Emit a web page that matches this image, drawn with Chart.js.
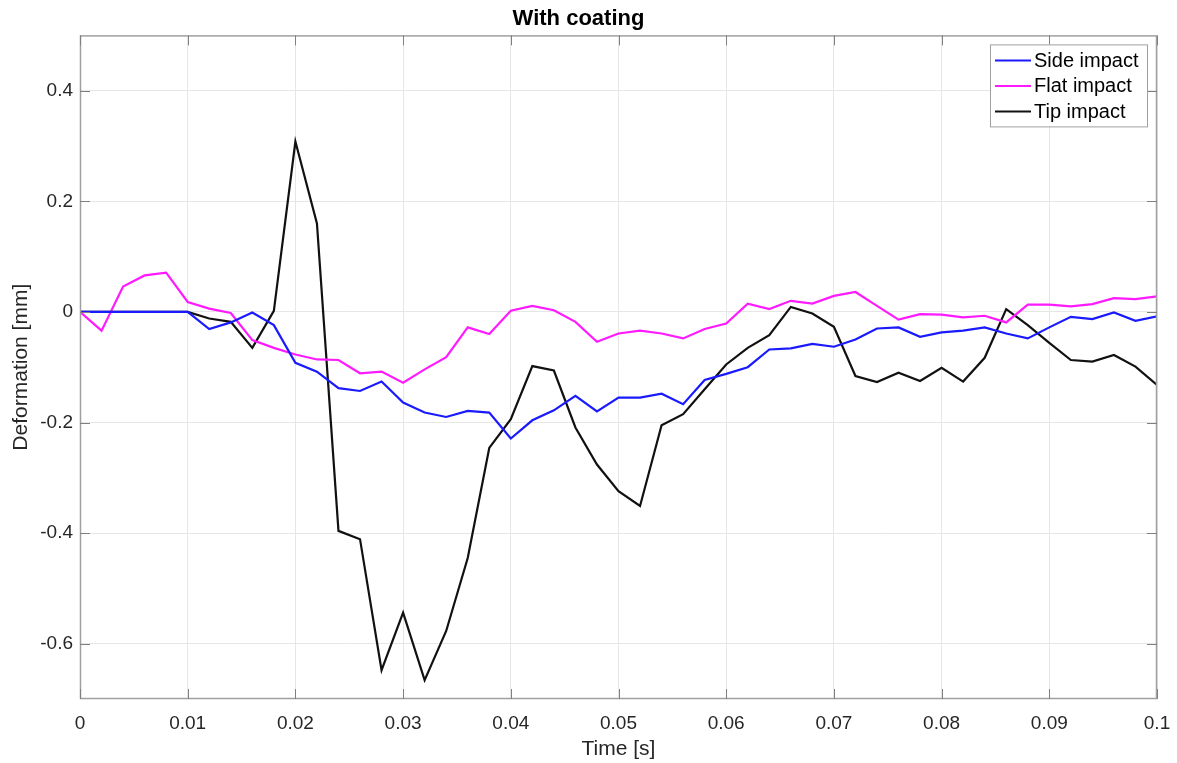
<!DOCTYPE html>
<html>
<head>
<meta charset="utf-8">
<script src="https://cdn.jsdelivr.net/npm/chart.js@4.4.0/dist/chart.umd.min.js"></script>
<style>
  html, body { margin: 0; padding: 0; background: #fff; }
  #wrap { width: 1177px; height: 763px; }
</style>
</head>
<body>
<div id="wrap"><canvas id="myChart" width="1177" height="763"></canvas></div>
<script>
// time samples [s]
const time = [0, 0.002, 0.004, 0.006, 0.008, 0.010, 0.012, 0.014, 0.016, 0.018,
  0.020, 0.022, 0.024, 0.026, 0.028, 0.030, 0.032, 0.034, 0.036, 0.038,
  0.040, 0.042, 0.044, 0.046, 0.048, 0.050, 0.052, 0.054, 0.056, 0.058,
  0.060, 0.062, 0.064, 0.066, 0.068, 0.070, 0.072, 0.074, 0.076, 0.078,
  0.080, 0.082, 0.084, 0.086, 0.088, 0.090, 0.092, 0.094, 0.096, 0.098, 0.100];

// deformation [mm]
const sideImpact = [0, 0, 0, 0, 0, 0, -0.031, -0.019, -0.001, -0.024,
  -0.092, -0.108, -0.138, -0.143, -0.126, -0.164, -0.182, -0.190, -0.179, -0.182,
  -0.229, -0.196, -0.178, -0.152, -0.180, -0.155, -0.155, -0.148, -0.167, -0.123,
  -0.112, -0.100, -0.068, -0.066, -0.058, -0.063, -0.050, -0.030, -0.028, -0.045,
  -0.037, -0.034, -0.028, -0.039, -0.048, -0.028, -0.009, -0.013, -0.001, -0.016, -0.008];

const flatImpact = [0, -0.034, 0.046, 0.066, 0.071, 0.018, 0.006, -0.002, -0.051, -0.065,
  -0.077, -0.086, -0.087, -0.111, -0.108, -0.128, -0.104, -0.082, -0.028, -0.040,
  0.002, 0.011, 0.003, -0.018, -0.054, -0.039, -0.034, -0.039, -0.048, -0.031,
  -0.021, 0.015, 0.005, 0.020, 0.015, 0.029, 0.036, 0.011, -0.014, -0.004,
  -0.005, -0.010, -0.007, -0.019, 0.013, 0.013, 0.010, 0.014, 0.025, 0.023, 0.028];

const tipImpact = [0, 0, 0, 0, 0, 0, -0.012, -0.018, -0.065, 0.002,
  0.308, 0.160, -0.396, -0.411, -0.648, -0.544, -0.666, -0.577, -0.445, -0.246,
  -0.194, -0.098, -0.106, -0.209, -0.276, -0.324, -0.351, -0.205, -0.185, -0.140,
  -0.095, -0.065, -0.042, 0.009, -0.003, -0.027, -0.116, -0.127, -0.110, -0.125,
  -0.101, -0.126, -0.083, 0.005, -0.024, -0.056, -0.087, -0.090, -0.078, -0.099, -0.132];

const xTicks = [0, 0.01, 0.02, 0.03, 0.04, 0.05, 0.06, 0.07, 0.08, 0.09, 0.1];
const yTicks = [-0.6, -0.4, -0.2, 0, 0.2, 0.4];

const FONT = '"Liberation Sans", Arial, Helvetica, sans-serif';
const TXT = '#262626';

function puntos(valores) {
  return time.map((t, i) => ({ x: t, y: valores[i] }));
}

// marco de ejes estilo MATLAB + marcas hacia dentro
const marco = {
  id: 'marco',
  afterDraw(chart) {
    const ctx = chart.ctx;
    const a = chart.chartArea;
    const xs = chart.scales.x, ys = chart.scales.y;
    ctx.save();
    ctx.strokeStyle = '#a0a0a0';
    ctx.lineWidth = 1.5;
    ctx.strokeRect(a.left + 0.5, a.top + 0.5, a.right - a.left - 1, a.bottom - a.top - 1);
    ctx.strokeStyle = '#808080';
    ctx.lineWidth = 1;
    ctx.beginPath();
    xTicks.forEach(v => {
      const px = Math.round(xs.getPixelForValue(v)) + 0.5;
      ctx.moveTo(px, a.bottom); ctx.lineTo(px, a.bottom - 10);
      ctx.moveTo(px, a.top); ctx.lineTo(px, a.top + 10);
    });
    yTicks.forEach(v => {
      const py = Math.round(ys.getPixelForValue(v)) + 0.5;
      ctx.moveTo(a.left, py); ctx.lineTo(a.left + 10, py);
      ctx.moveTo(a.right, py); ctx.lineTo(a.right - 10, py);
    });
    ctx.stroke();
    ctx.restore();
  }
};

// leyenda dentro del area (esquina superior derecha)
const leyenda = {
  id: 'leyenda',
  afterDraw(chart) {
    const ctx = chart.ctx;
    const a = chart.chartArea;
    const sets = chart.data.datasets;
    const w = 157, h = 82, x0 = a.right - 10 - w, y0 = a.top + 9;
    ctx.save();
    ctx.fillStyle = '#fff';
    ctx.fillRect(x0, y0, w, h);
    ctx.strokeStyle = '#a0a0a0';
    ctx.lineWidth = 1;
    ctx.strokeRect(x0 + 0.5, y0 + 0.5, w, h);
    ctx.font = '20px ' + FONT;
    ctx.textBaseline = 'middle';
    sets.forEach((ds, i) => {
      const cy = y0 + 16 + i * 25.5;
      ctx.strokeStyle = ds.borderColor;
      ctx.lineWidth = 2;
      ctx.beginPath();
      ctx.moveTo(x0 + 5, cy); ctx.lineTo(x0 + 41, cy);
      ctx.stroke();
      ctx.fillStyle = '#000';
      ctx.fillText(ds.label, x0 + 44, cy + 1);
    });
    ctx.restore();
  }
};

const ctx = document.getElementById('myChart').getContext('2d');
new Chart(ctx, {
  type: 'line',
  data: {
    datasets: [
      { label: 'Side impact', data: puntos(sideImpact), borderColor: '#1a1aff', borderWidth: 2.2 },
      { label: 'Flat impact', data: puntos(flatImpact), borderColor: '#ff1aff', borderWidth: 2.2 },
      { label: 'Tip impact', data: puntos(tipImpact), borderColor: '#111111', borderWidth: 2.2 }
    ]
  },
  options: {
    responsive: false,
    animation: false,
    elements: { point: { radius: 0 }, line: { tension: 0 } },
    layout: { padding: { top: 0, right: 20, bottom: 0, left: 0 } },
    plugins: {
      legend: { display: false },
      tooltip: { enabled: false },
      title: {
        display: true,
        text: 'With coating',
        color: '#000',
        font: { family: FONT, size: 22, weight: 'bold' },
        padding: { top: 6, bottom: 3 }
      }
    },
    scales: {
      x: {
        type: 'linear',
        min: 0,
        max: 0.1,
        afterBuildTicks: s => { s.ticks = xTicks.map(v => ({ value: v })); },
        afterFit: s => { s.height = 64; s.paddingLeft = 0; s.paddingRight = 0; },
        grid: { color: '#e6e6e6', drawTicks: false },
        border: { display: false },
        ticks: {
          color: TXT,
          font: { family: FONT, size: 19 },
          padding: 13,
          maxRotation: 0,
          callback: v => String(Number(v.toFixed(2)))
        },
        title: {
          display: true,
          text: 'Time [s]',
          color: TXT,
          font: { family: FONT, size: 21 },
          padding: { top: 0, bottom: 1 }
        }
      },
      y: {
        type: 'linear',
        min: -0.7,
        max: 0.5,
        afterBuildTicks: s => { s.ticks = yTicks.map(v => ({ value: v })); },
        afterFit: s => { s.width = 80; },
        grid: { color: '#e6e6e6', drawTicks: false },
        border: { display: false },
        ticks: {
          color: TXT,
          font: { family: FONT, size: 19 },
          padding: 7,
          callback: v => String(Number(v.toFixed(2)))
        },
        title: {
          display: true,
          text: 'Deformation [mm]',
          color: TXT,
          font: { family: FONT, size: 21 },
          padding: { top: 9, bottom: 0 }
        }
      }
    }
  },
  plugins: [marco, leyenda]
});
</script>
</body>
</html>
